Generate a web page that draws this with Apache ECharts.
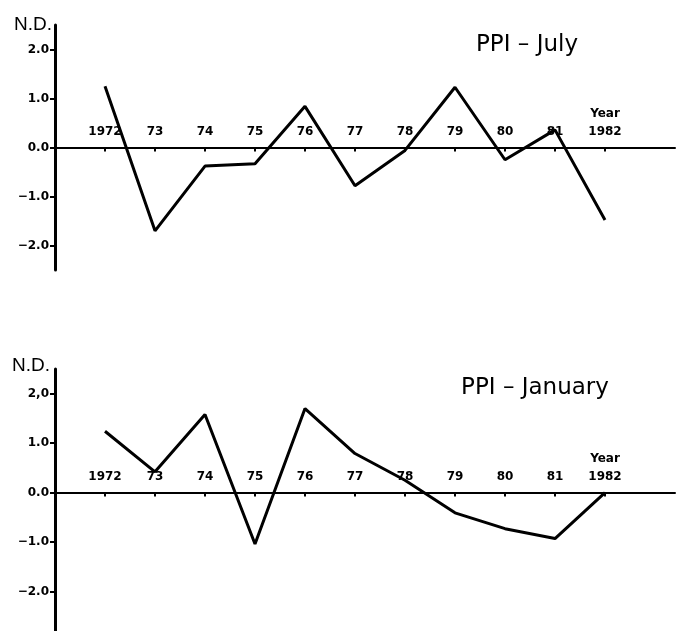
<!DOCTYPE html>
<html><head><meta charset="utf-8">
<script src="https://cdn.jsdelivr.net/npm/echarts@6/dist/echarts.min.js"></script>
<style>html,body{margin:0;padding:0;background:#fff}#c{width:687px;height:631px}</style>
</head><body><div id="c"></div>
<script>
const years = [1972,1973,1974,1975,1976,1977,1978,1979,1980,1981,1982];
const xTickLabels = ['1972','73','74','75','76','77','78','79','80','81','Year\n1982'];
const julyValues = [1.25,-1.70,-0.38,-0.33,0.84,-0.78,-0.06,1.23,-0.25,0.36,-1.48];
const januaryValues = [1.24,0.42,1.58,-1.04,1.70,0.79,0.25,-0.41,-0.73,-0.93,0.0];
const yTicks = [-2,-1,0,1,2];
const yTickLabelsJuly = ['\u22122.0','\u22121.0','0.0','1.0','2.0'];
const yTickLabelsJanuary = ['\u22122.0','\u22121.0','0.0','1.0','2,0'];

const chart = echarts.init(document.getElementById('c'), null, {renderer:'canvas'});
const font = 'DejaVu Sans';
const grids = [
  {left:55, right:12, top:25, height:245, ymin:-2.5, ymax:2.5},
  {left:55, right:12, top:369, height:262, ymin:-2.8, ymax:2.5}
];
function xAxisCfg(gi){
  const g = grids[gi];
  const off = -(0 - g.ymin) / (g.ymax - g.ymin) * g.height;
  return {
    type:'value', gridIndex:gi, min:1971, max:1983.4, offset:off,
    axisLine:{show:true, onZero:false, lineStyle:{color:'#000', width:2}},
    axisTick:{show:true, inside:false, length:4, customValues:years, lineStyle:{color:'#000', width:2}},
    axisLabel:{show:true, inside:true, margin:7, customValues:years, color:'#000', fontFamily:font, fontWeight:'bold', fontSize:12, lineHeight:18,
      formatter:function(v){ const i = years.indexOf(Math.round(v)); return i>=0 ? xTickLabels[i] : ''; }},
    splitLine:{show:false}
  };
}
function yAxisCfg(gi, labels){
  const g = grids[gi];
  return {
    type:'value', gridIndex:gi, min:g.ymin, max:g.ymax,
    axisLine:{show:true, onZero:false, lineStyle:{color:'#000', width:3}},
    axisTick:{show:true, inside:false, length:5, customValues:yTicks, lineStyle:{color:'#000', width:2}},
    axisLabel:{show:true, margin:6, customValues:yTicks, color:'#000', fontFamily:font, fontWeight:'bold', fontSize:12,
      formatter:function(v){ const i = yTicks.indexOf(Math.round(v)); return i>=0 ? labels[i] : ''; }},
    splitLine:{show:false}
  };
}
function seriesCfg(gi, vals){
  return {
    type:'line', xAxisIndex:gi, yAxisIndex:gi, showSymbol:false, symbol:'none',
    lineStyle:{color:'#000', width:3}, animation:false,
    data: years.map((y,i)=>[y, vals[i]])
  };
}
chart.setOption({
  animation:false,
  backgroundColor:'#fff',
  graphic:[
    {type:'text', x:527, y:45, style:{text:'PPI \u2013 July', fill:'#000', font:'normal 23px "DejaVu Sans"', align:'center', verticalAlign:'middle'}},
    {type:'text', x:535, y:388, style:{text:'PPI \u2013 January', fill:'#000', font:'normal 23px "DejaVu Sans"', align:'center', verticalAlign:'middle'}},
    {type:'text', x:14, y:25, style:{text:'N.D.', fill:'#000', font:'normal 19px "Liberation Sans Narrow", "Liberation Sans"', align:'left', verticalAlign:'middle'}},
    {type:'text', x:12, y:366, style:{text:'N.D.', fill:'#000', font:'normal 19px "Liberation Sans Narrow", "Liberation Sans"', align:'left', verticalAlign:'middle'}}
  ],
  grid: grids.map(g=>({left:g.left, right:g.right, top:g.top, height:g.height})),
  xAxis:[xAxisCfg(0), xAxisCfg(1)],
  yAxis:[yAxisCfg(0,yTickLabelsJuly), yAxisCfg(1,yTickLabelsJanuary)],
  series:[seriesCfg(0, julyValues), seriesCfg(1, januaryValues)]
});
</script></body></html>
